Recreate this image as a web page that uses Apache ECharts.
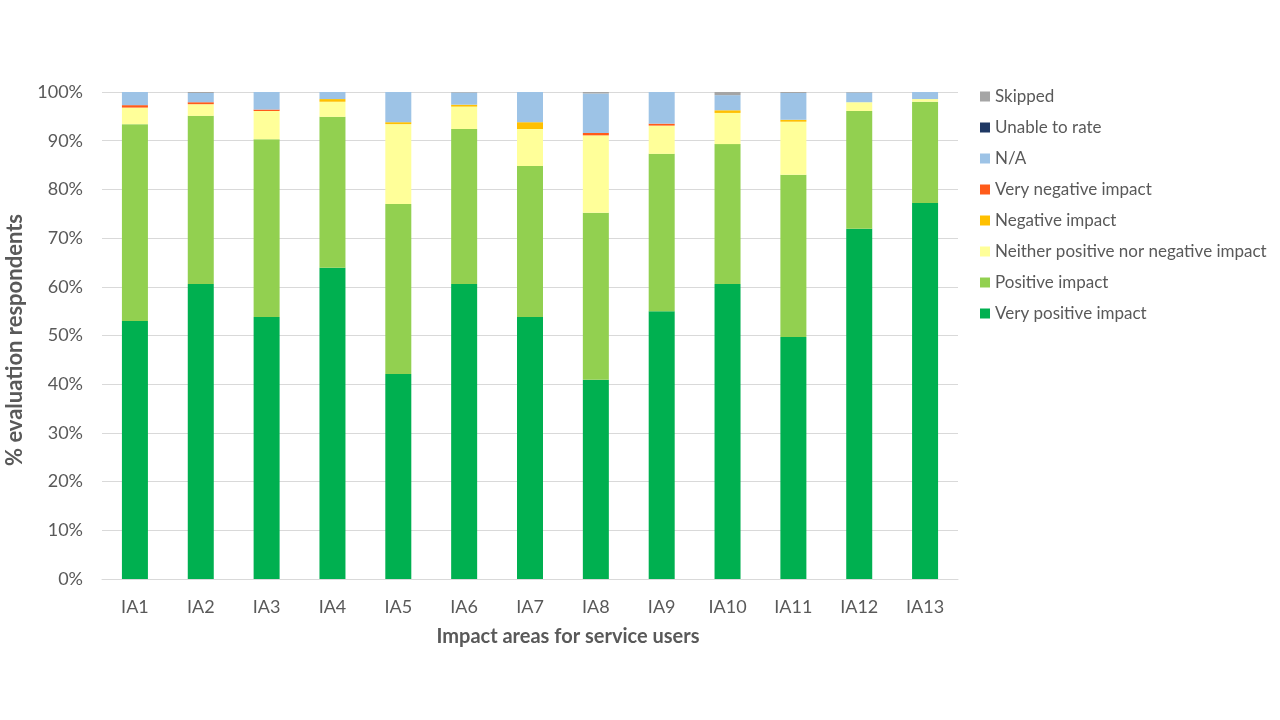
<!DOCTYPE html>
<html>
<head>
<meta charset="utf-8">
<script src="https://cdn.jsdelivr.net/npm/echarts@6/dist/echarts.min.js"></script>
<style>html,body{margin:0;padding:0;background:#fff}#c{width:1280px;height:720px}</style>
</head>
<body>
<div id="c"></div>
<script>
const categories = ['IA1','IA2','IA3','IA4','IA5','IA6','IA7','IA8','IA9','IA10','IA11','IA12','IA13'];
const veryPositive = [53.0, 60.6, 53.8, 63.9, 42.1, 60.6, 53.8, 40.9, 55.0, 60.6, 49.7, 71.9, 77.2];
const positive     = [40.4, 34.5, 36.5, 31.0, 34.9, 31.8, 31.0, 34.3, 32.3, 28.7, 33.3, 24.2, 20.8];
const neither      = [3.4, 2.4, 5.8, 3.1, 16.4, 4.6, 7.6, 15.9, 5.8, 6.4, 10.9, 1.8, 0.55];
const negative     = [0.0, 0.0, 0.0, 0.55, 0.4, 0.4, 1.4, 0.0, 0.0, 0.55, 0.4, 0.0, 0.0];
const veryNegative = [0.5, 0.4, 0.3, 0.0, 0.0, 0.0, 0.0, 0.5, 0.4, 0.0, 0.0, 0.0, 0.0];
const na           = [2.7, 1.9, 3.6, 1.45, 6.2, 2.5, 6.2, 8.1, 6.5, 3.1, 5.5, 2.0, 1.45];
const unableToRate = [0, 0, 0, 0, 0, 0, 0, 0, 0, 0, 0, 0, 0];
const skipped      = [0.0, 0.2, 0.0, 0.0, 0.0, 0.1, 0.0, 0.3, 0.0, 0.7, 0.2, 0.1, 0.0];
const yTicks = ['0%','10%','20%','30%','40%','50%','60%','70%','80%','90%','100%'];

const seriesDefs = [
  ['Very positive impact', veryPositive, '#00B050'],
  ['Positive impact', positive, '#92D050'],
  ['Neither positive nor negative impact', neither, '#FFFF99'],
  ['Negative impact', negative, '#FFC000'],
  ['Very negative impact', veryNegative, '#FF5B1A'],
  ['N/A', na, '#9DC3E6'],
  ['Unable to rate', unableToRate, '#1F3864'],
  ['Skipped', skipped, '#A5A5A5']
];

const font = 'Lato, "Open Sans", sans-serif';
const chart = echarts.init(document.getElementById('c'));
chart.setOption({
  animation: false,
  textStyle: { fontFamily: font },
  grid: { left: 102, right: 322, top: 92, bottom: 141, containLabel: false, outerBoundsMode: 'none' },
  legend: {
    orient: 'vertical',
    left: 975, top: 83,
    data: seriesDefs.map(s => s[0]).reverse(),
    icon: 'rect', itemWidth: 10, itemHeight: 10, itemGap: 14,
    textStyle: { fontSize: 17, color: '#595959', fontFamily: font, lineHeight: 17 }
  },
  xAxis: {
    type: 'category', data: categories,
    axisTick: { show: false },
    axisLine: { lineStyle: { color: '#D9D9D9' } },
    axisLabel: { fontSize: 18, color: '#595959', margin: 19, fontFamily: font },
    name: 'Impact areas for service users', nameLocation: 'middle', nameGap: 48,
    nameTextStyle: { fontSize: 20, fontWeight: 'bold', color: '#595959', fontFamily: font, padding: [0, 0, 0, 76] }
  },
  yAxis: {
    type: 'value', min: 0, max: 100, interval: 10,
    axisLabel: { fontSize: 18, color: '#595959', margin: 19, fontFamily: font,
      formatter: v => yTicks[Math.round(v / 10)] },
    splitLine: { lineStyle: { color: '#D9D9D9' } },
    axisLine: { show: false }, axisTick: { show: false },
    name: '% evaluation respondents', nameLocation: 'middle', nameGap: 73,
    nameTextStyle: { fontSize: 22, fontWeight: 'bold', color: '#595959', fontFamily: font, padding: [0, 9, 0, 0] }
  },
  series: seriesDefs.map(s => ({
    name: s[0], type: 'bar', stack: 'total', data: s[1], barWidth: 26,
    itemStyle: { color: s[2] }
  }))
});
</script>
</body>
</html>
